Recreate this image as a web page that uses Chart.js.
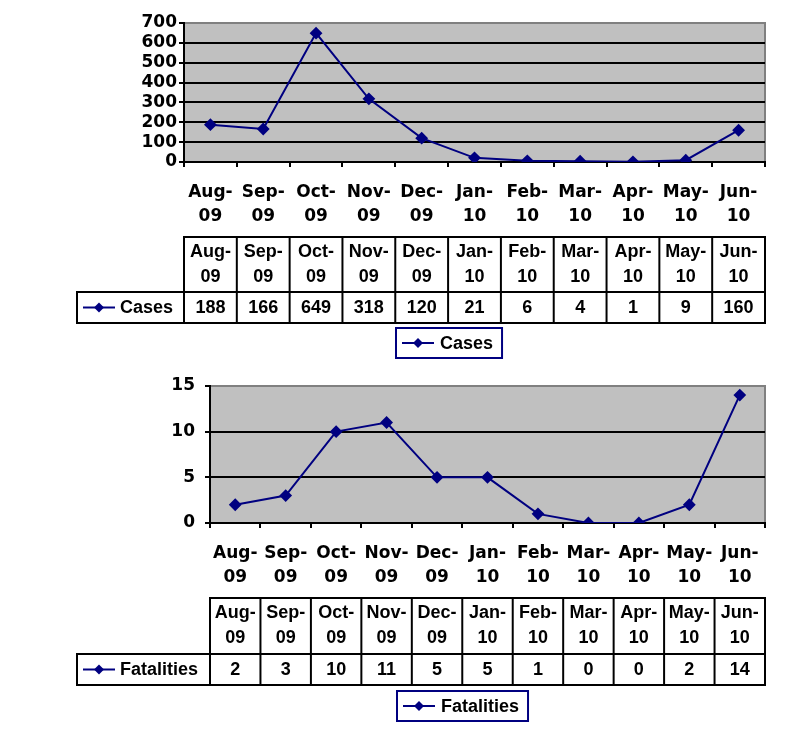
<!DOCTYPE html>
<html>
<head>
<meta charset="utf-8">
<script src="https://cdn.jsdelivr.net/npm/chart.js@4"></script>
<style>
  body { margin: 0; background: #fff; }
  .wrap { position: absolute; left: 0; width: 805px; }
  canvas { display: block; }
</style>
</head>
<body>
<div class="wrap" style="top:0"><canvas id="casesChart" width="805" height="370"></canvas></div>
<div class="wrap" style="top:370px"><canvas id="fatalChart" width="805" height="382"></canvas></div>
<script>
// Months shown on both charts
const months = ['Aug-09', 'Sep-09', 'Oct-09', 'Nov-09', 'Dec-09', 'Jan-10', 'Feb-10', 'Mar-10', 'Apr-10', 'May-10', 'Jun-10'];
const cases = [188, 166, 649, 318, 120, 21, 6, 4, 1, 9, 160];
const fatalities = [2, 3, 10, 11, 5, 5, 1, 0, 0, 2, 14];
const casesTicks = [0, 100, 200, 300, 400, 500, 600, 700];
const fatalTicks = [0, 5, 10, 15];

const NAVY = '#000080';
const X_FONT = { family: 'DejaVu Sans', weight: 'bold', size: 17, lineHeight: 1.45 };
const Y_FONT = { family: 'DejaVu Sans', weight: 'bold', size: 17, lineHeight: 0.7 };
const TABLE_FONT = 'bold 18px "Liberation Sans", Arial, sans-serif';

// split "Aug-09" into ["Aug-", "09"]
function twoLines(label) {
    const i = label.indexOf('-');
    return [label.slice(0, i + 1), label.slice(i + 1)];
}

function drawDiamond(ctx, x, y, r) {
    ctx.beginPath();
    ctx.moveTo(x, y - r);
    ctx.lineTo(x + r, y);
    ctx.lineTo(x, y + r);
    ctx.lineTo(x - r, y);
    ctx.closePath();
    ctx.fill();
}

function drawSymbol(ctx, x1, x2, y) {
    ctx.strokeStyle = NAVY;
    ctx.fillStyle = NAVY;
    ctx.lineWidth = 2;
    ctx.beginPath();
    ctx.moveTo(x1, y);
    ctx.lineTo(x2, y);
    ctx.stroke();
    drawDiamond(ctx, (x1 + x2) / 2, y, 5);
}

// gray plot background with a gray frame on top and right
const plotBackground = {
    id: 'plotBackground',
    beforeDraw(chart) {
        const { ctx, chartArea: a } = chart;
        ctx.save();
        ctx.fillStyle = '#c0c0c0';
        ctx.fillRect(a.left, a.top, a.right - a.left, a.bottom - a.top);
        ctx.strokeStyle = '#808080';
        ctx.lineWidth = 2;
        ctx.beginPath();
        ctx.moveTo(a.left, a.top);
        ctx.lineTo(a.right, a.top);
        ctx.lineTo(a.right, a.bottom);
        ctx.stroke();
        ctx.restore();
    }
};

// data table and legend box under the x axis
const dataTable = {
    id: 'dataTable',
    afterDraw(chart, args, o) {
        const { ctx, chartArea: a } = chart;
        const x = chart.scales.x;
        const ds = chart.data.datasets[0];
        const n = chart.data.labels.length;
        const w = x.getPixelForValue(1) - x.getPixelForValue(0);
        const top = a.bottom + o.gap;
        const mid = top + o.headH;
        const bot = mid + o.rowH;

        ctx.save();
        ctx.strokeStyle = '#000';
        ctx.lineWidth = 2;
        ctx.strokeRect(a.left, top, a.right - a.left, o.headH);
        ctx.strokeRect(o.labelLeft, mid, a.right - o.labelLeft, o.rowH);
        for (let i = 1; i < n; i++) {
            const bx = x.getPixelForValue(i) - w / 2;
            ctx.beginPath();
            ctx.moveTo(bx, top);
            ctx.lineTo(bx, bot);
            ctx.stroke();
        }
        ctx.beginPath();
        ctx.moveTo(a.left, mid);
        ctx.lineTo(a.left, bot);
        ctx.stroke();

        ctx.font = TABLE_FONT;
        ctx.fillStyle = '#000';
        ctx.textAlign = 'center';
        ctx.textBaseline = 'middle';
        chart.data.labels.forEach((lab, i) => {
            const cx = x.getPixelForValue(i);
            ctx.fillText(lab[0], cx, top + 15);
            ctx.fillText(lab[1], cx, top + 40);
            ctx.fillText(String(ds.data[i]), cx, mid + o.rowH / 2 + 1);
        });

        // series name cell
        drawSymbol(ctx, o.labelLeft + 6, o.labelLeft + 38, mid + o.rowH / 2);
        ctx.fillStyle = '#000';
        ctx.textAlign = 'left';
        ctx.fillText(ds.label, o.labelLeft + 43, mid + o.rowH / 2 + 1);

        // legend box
        const lt = bot + o.legendGap;
        const tw = ctx.measureText(ds.label).width;
        const lw = 44 + tw + 9;
        ctx.strokeRect(o.legendLeft, lt, lw, 30);
        drawSymbol(ctx, o.legendLeft + 6, o.legendLeft + 38, lt + 15);
        ctx.fillStyle = '#000';
        ctx.fillText(ds.label, o.legendLeft + 44, lt + 16);
        ctx.restore();
    }
};

function makeChart(id, label, values, ticks, yWidth, yPad, pad, table) {
    const max = ticks[ticks.length - 1];
    return new Chart(document.getElementById(id).getContext('2d'), {
        type: 'line',
        data: {
            labels: months.map(twoLines),
            datasets: [{
                label: label,
                data: values,
                borderColor: NAVY,
                backgroundColor: NAVY,
                borderWidth: 2,
                tension: 0,
                pointStyle: 'rectRot',
                pointRadius: 5,
                pointHoverRadius: 5,
                fill: false,
            }]
        },
        options: {
            responsive: false,
            animation: false,
            devicePixelRatio: 1,
            layout: { padding: pad },
            scales: {
                x: {
                    offset: true,
                    grid: { offset: true, drawOnChartArea: false, drawTicks: true, tickLength: 5, color: '#000', lineWidth: 2 },
                    border: { display: true, color: '#000', width: 2 },
                    ticks: { color: '#000', font: X_FONT, padding: 13, maxRotation: 0, autoSkip: false },
                    afterFit: s => { s.height = table.gap; }
                },
                y: {
                    min: 0,
                    max: max,
                    afterBuildTicks: s => { s.ticks = ticks.map(v => ({ value: v })); },
                    grid: {
                        color: c => (c.tick && c.tick.value === max ? '#808080' : '#000'),
                        tickColor: '#000',
                        lineWidth: 2,
                        tickLength: 5
                    },
                    border: { display: true, color: '#000', width: 2 },
                    ticks: { color: '#000', font: Y_FONT, padding: yPad, autoSkip: false },
                    afterFit: s => { s.width = yWidth; }
                }
            },
            plugins: {
                legend: { display: false },
                tooltip: { enabled: false },
                dataTable: table
            }
        },
        plugins: [plotBackground, dataTable]
    });
}

makeChart('casesChart', 'Cases', cases, casesTicks, 184, 2,
    { top: 23, right: 40, bottom: 133, left: 0 },
    { gap: 75, headH: 55, rowH: 31, labelLeft: 77, legendGap: 5, legendLeft: 396 });

makeChart('fatalChart', 'Fatalities', fatalities, fatalTicks, 210, 10,
    { top: 15, right: 40, bottom: 154, left: 0 },
    { gap: 75, headH: 56, rowH: 31, labelLeft: 77, legendGap: 6, legendLeft: 397 });
</script>
</body>
</html>
